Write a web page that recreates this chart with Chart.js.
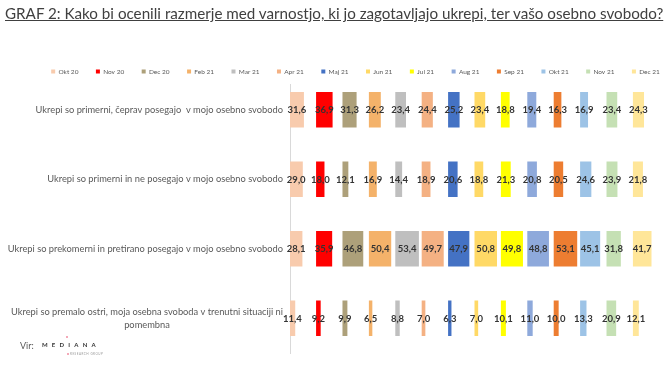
<!DOCTYPE html>
<html>
<head>
<meta charset="utf-8">
<script src="https://cdn.jsdelivr.net/npm/chart.js@4.4.0/dist/chart.umd.min.js"></script>
<style>
  body { margin: 0; background: #fff; }
  #wrap { position: relative; width: 671px; height: 371px; font-family: Lato, "Liberation Sans", sans-serif; }
  #title { position: absolute; left: 5px; top: 4px; font-size: 15.2px; line-height: 19px; color: #404040; text-decoration: underline; white-space: nowrap; z-index: 2; }
  #myChart { position: absolute; left: 0; top: 0; }
  #vir { position: absolute; left: 20px; top: 340px; font-size: 9px; color: #595959; }
  #logo { position: absolute; left: 42px; top: 341px; font-size: 6px; font-weight: bold; letter-spacing: 4.2px; color: #333; }
  #logoSub { position: absolute; left: 70px; top: 352px; font-size: 3px; letter-spacing: 0.5px; color: #999; }
  .dot { position: absolute; width: 2px; height: 2px; border-radius: 1px; background: #f08ca0; }
</style>
</head>
<body>
<div id="wrap">
  <canvas id="myChart" width="671" height="371"></canvas>
  <div id="title">GRAF 2: Kako bi ocenili razmerje med varnostjo, ki jo zagotavljajo ukrepi, ter vašo osebno svobodo?</div>
  <div id="vir">Vir:</div>
  <div class="dot" style="left:66px;top:336px"></div>
  <div id="logo">MEDIANA</div>
  <div class="dot" style="left:67px;top:353px"></div>
  <div id="logoSub">RESEARCH GROUP</div>
</div>
<script>
const months = ['Okt 20', 'Nov 20', 'Dec 20', 'Feb 21', 'Mar 21', 'Apr 21', 'Maj 21',
    'Jun 21', 'Jul 21', 'Aug 21', 'Sep 21', 'Okt 21', 'Nov 21', 'Dec 21'];

const colors = ['#F8CBAD', '#FF0000', '#ADA07A', '#F4B26A', '#BFBFBF', '#F4B183', '#4472C4',
    '#FFD966', '#FFFF00', '#8EA9DB', '#ED7D31', '#9DC3E6', '#C5E0B4', '#FFE699'];

const categories = [
    'Ukrepi so primerni, čeprav posegajo  v mojo osebno svobodo',
    'Ukrepi so primerni in ne posegajo v mojo osebno svobodo',
    'Ukrepi so prekomerni in pretirano posegajo v mojo osebno svobodo',
    ['Ukrepi so premalo ostri, moja osebna svoboda v trenutni situaciji ni', 'pomembna']
];

// one array per answer, one value per month (%)
const primerniCeprav = [31.6, 36.9, 31.3, 26.2, 23.4, 24.4, 25.2, 23.4, 18.8, 19.4, 16.3, 16.9, 23.4, 24.3];
const primerniNe = [29.0, 18.0, 12.1, 16.9, 14.4, 18.9, 20.6, 18.8, 21.3, 20.8, 20.5, 24.6, 23.9, 21.8];
const prekomerni = [28.1, 35.9, 46.8, 50.4, 53.4, 49.7, 47.9, 50.8, 49.8, 48.8, 53.1, 45.1, 31.8, 41.7];
const premaloOstri = [11.4, 9.2, 9.9, 6.5, 8.8, 7.0, 6.3, 7.0, 10.1, 11.0, 10.0, 13.3, 20.9, 12.1];

const rows = [primerniCeprav, primerniNe, prekomerni, premaloOstri];

// every month gets its own column of the same width (axis units)
const colStep = 61.4;

const datasets = months.map((m, j) => ({
    label: m,
    data: rows.map((r, i) => ({ y: i, x: [j * colStep, j * colStep + r[j]] })),
    backgroundColor: colors[j],
    borderWidth: 0,
    barThickness: 35
}));

const valueLabels = {
    id: 'valueLabels',
    afterDatasetsDraw(chart) {
        const ctx = chart.ctx;
        ctx.save();
        ctx.font = 'bold 9.5px Lato';
        ctx.fillStyle = '#333';
        ctx.textAlign = 'center';
        ctx.textBaseline = 'middle';
        chart.data.datasets.forEach((ds, j) => {
            chart.getDatasetMeta(j).data.forEach((bar, i) => {
                const txt = rows[i][j].toFixed(1).replace('.', ',');
                ctx.fillText(txt, (bar.x + bar.base) / 2, bar.y + 0.5);
            });
        });
        ctx.restore();
    }
};

// category names, right aligned; a wrapped second line is centred under the first
const rowLabels = {
    id: 'rowLabels',
    afterDraw(chart) {
        const ctx = chart.ctx;
        const yScale = chart.scales.y;
        const right = chart.chartArea.left - 7;
        ctx.save();
        ctx.font = '9.3px Lato';
        ctx.fillStyle = '#595959';
        ctx.textBaseline = 'middle';
        categories.forEach((c, i) => {
            const py = yScale.getPixelForValue(i);
            if (Array.isArray(c)) {
                const w = ctx.measureText(c[0]).width;
                ctx.textAlign = 'right';
                ctx.fillText(c[0], right, py - 6.5);
                ctx.textAlign = 'center';
                ctx.fillText(c[1], right - w / 2, py + 6.5);
            } else {
                ctx.textAlign = 'right';
                ctx.fillText(c, right, py);
            }
        });
        ctx.restore();
    }
};

const ctx = document.getElementById('myChart').getContext('2d');
const myChart = new Chart(ctx, {
    type: 'bar',
    data: { datasets: datasets },
    options: {
        indexAxis: 'y',
        responsive: false,
        animation: false,
        devicePixelRatio: 1,
        layout: { padding: { left: 20, right: -20, top: 50.75, bottom: 18 } },
        scales: {
            x: { display: false, min: 0, max: 886, stacked: false },
            y: {
                type: 'linear',
                stacked: true,
                reverse: true,
                offset: false,
                min: -0.36,
                max: 3.5,
                bounds: 'data',
                ticks: { display: false },
                grid: { display: false },
                border: { display: true, color: '#d9d9d9', width: 1 },
                afterFit(scale) { scale.width = 290 - 20; }
            }
        },
        plugins: {
            legend: {
                position: 'top',
                labels: {
                    boxWidth: 4,
                    boxHeight: 4,
                    padding: 17.5,
                    color: '#595959',
                    font: { family: 'Lato', size: 6.5 }
                }
            },
            tooltip: { enabled: false }
        }
    },
    plugins: [valueLabels, rowLabels]
});
</script>
</body>
</html>
